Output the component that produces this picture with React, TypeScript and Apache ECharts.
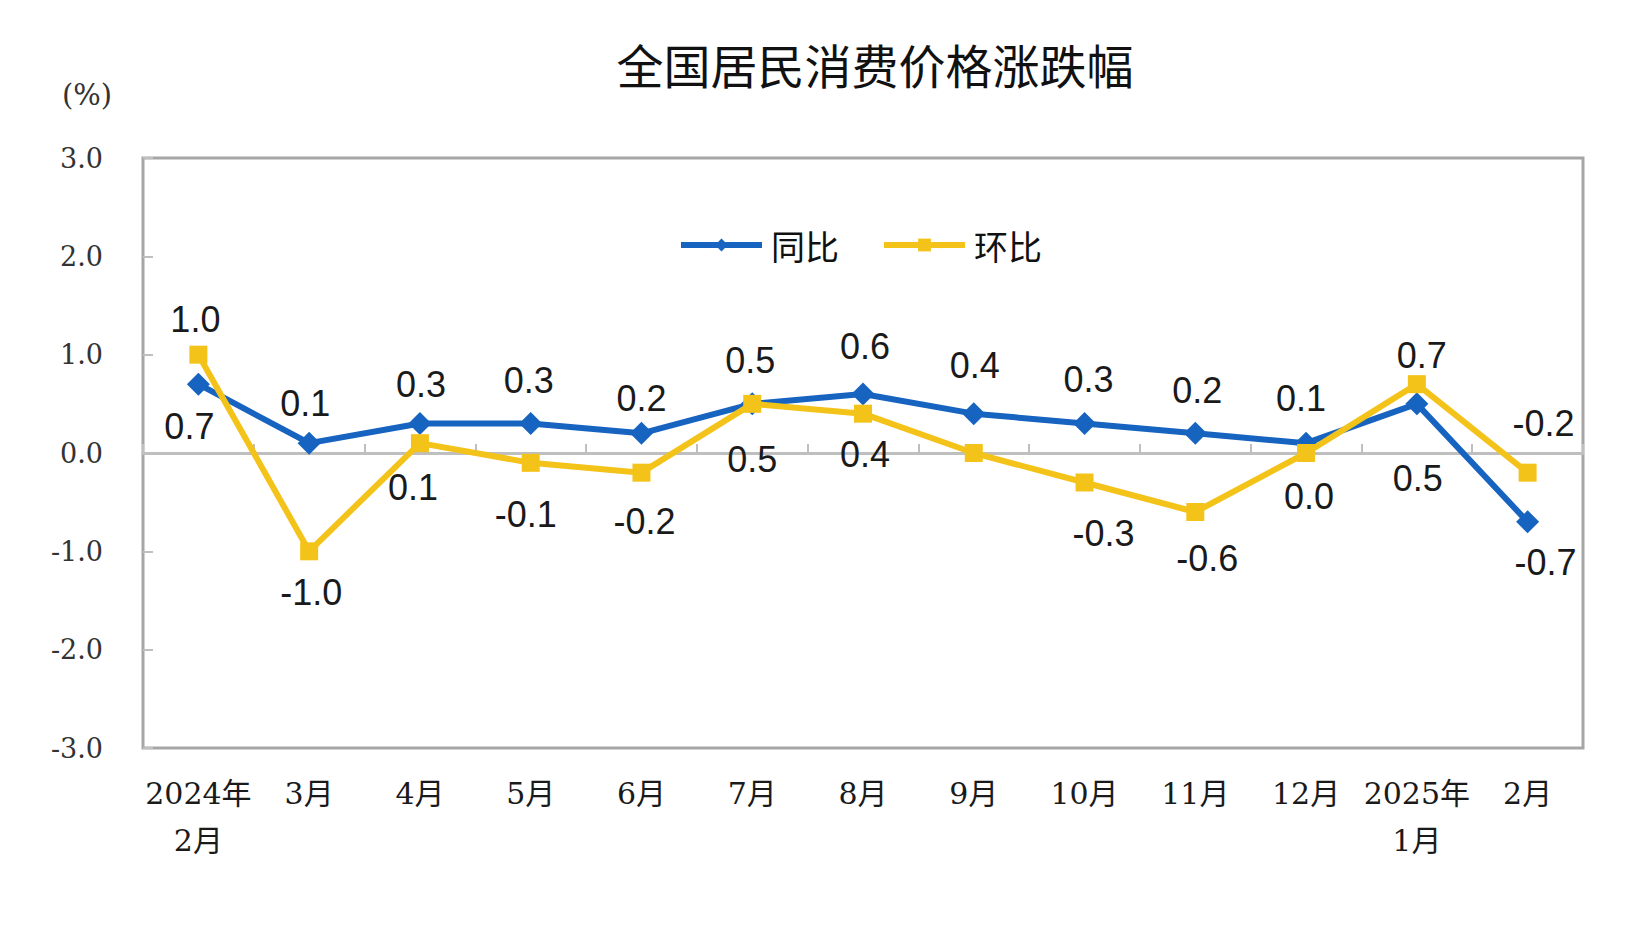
import React, { useEffect, useRef } from "react";
import * as echarts from "echarts";

const categories = ["2024年\n2月", "3月", "4月", "5月", "6月", "7月", "8月", "9月", "10月", "11月", "12月", "2025年\n1月", "2月"];
const yoyValues = [0.7, 0.1, 0.3, 0.3, 0.2, 0.5, 0.6, 0.4, 0.3, 0.2, 0.1, 0.5, -0.7];
const momValues = [1.0, -1.0, 0.1, -0.1, -0.2, 0.5, 0.4, 0.0, -0.3, -0.6, 0.0, 0.7, -0.2];
const momLabelShown = [true, true, true, true, true, true, true, false, true, true, true, true, true];
const yTicks = [-3, -2, -1, 0, 1, 2, 3];

const yoyLabelOffsets: [number, number][] = [
  [-9, 42], [-4, -40], [1, -39], [-2, -43], [0, -35], [-2, -43], [2, -48],
  [1, -48], [4, -44], [2, -43], [-5, -45], [1, 75], [18, 41],
];
const momLabelOffsets: [number, number][] = [
  [-3, -35], [2, 41], [-7, 44], [-5, 52], [3, 49], [0, 56], [2, 41],
  [0, 0], [19, 51], [12, 46], [3, 43], [5, -29], [16, -49],
];

const BLUE = "#1763c0";
const YELLOW = "#f4c31a";
const LABEL_FONT = "'Liberation Sans', Arial, sans-serif";
const SERIF = "'DejaVu Serif', 'Noto Sans CJK SC', serif";
const CJK = "'Noto Sans CJK SC', sans-serif";

export default function App() {
  const ref = useRef<HTMLDivElement>(null);
  useEffect(() => {
    document.body.style.margin = "0";
    if (!ref.current) return;
    const chart = echarts.init(ref.current, undefined, { renderer: "svg" });
    const labelStyle = { fontFamily: LABEL_FONT, fontSize: 36, color: "#1a1a1a" };
    const yoyData = yoyValues.map((v, i) => ({
      value: v,
      label: { show: true, position: "inside", offset: yoyLabelOffsets[i], formatter: v.toFixed(1), ...labelStyle },
    }));
    const momData = momValues.map((v, i) => ({
      value: v,
      label: { show: momLabelShown[i], position: "inside", offset: momLabelOffsets[i], formatter: v.toFixed(1), ...labelStyle },
    }));
    chart.setOption({
      animation: false,
      backgroundColor: "#ffffff",
      graphic: [
        {
          type: "text",
          x: 875,
          y: 63,
          style: { text: "全国居民消费价格涨跌幅", font: `47px ${CJK}`, fill: "#111", textAlign: "center", textVerticalAlign: "middle" },
        },
        {
          type: "text",
          x: 87,
          y: 95,
          style: { text: "(%)", font: `29px ${SERIF}`, fill: "#333", textAlign: "center", textVerticalAlign: "middle" },
        },
      ],
      legend: {
        data: ["同比", "环比"],
        left: 673,
        top: 223,
        itemWidth: 81,
        itemHeight: 16,
        itemGap: 42,
        lineStyle: { width: 6 },
        textStyle: { fontFamily: CJK, fontSize: 34, color: "#111", padding: [0, 0, 0, 4] },
      },
      grid: {
        left: 143,
        right: 66,
        top: 158,
        bottom: 198,
        show: true,
        borderColor: "#a6a6a6",
        borderWidth: 3,
        backgroundColor: "transparent",
      },
      xAxis: [
        {
          type: "category",
          data: categories,
          position: "bottom",
          boundaryGap: true,
          axisLine: { show: false, onZero: false },
          axisTick: { show: false },
          axisLabel: {
            interval: 0,
            margin: 22,
            fontFamily: SERIF,
            fontSize: 30,
            lineHeight: 47,
            color: "#1a1a1a",
          },
        },
        {
          type: "category",
          data: categories,
          position: "bottom",
          boundaryGap: true,
          axisLine: { show: true, onZero: true, lineStyle: { color: "#bfbfbf", width: 3 } },
          axisTick: { show: true, inside: true, length: 9, interval: 0, lineStyle: { color: "#bfbfbf", width: 2 } },
          axisLabel: { show: false },
        },
      ],
      yAxis: {
        type: "value",
        min: yTicks[0],
        max: yTicks[yTicks.length - 1],
        interval: 1,
        axisLine: { show: false },
        axisTick: { show: true, inside: true, length: 10, lineStyle: { color: "#bfbfbf", width: 2 } },
        splitLine: { show: false },
        axisLabel: {
          margin: 40,
          fontFamily: SERIF,
          fontSize: 27,
          color: "#333",
          formatter: (v: number) => v.toFixed(1),
        },
      },
      series: [
        {
          name: "同比",
          type: "line",
          xAxisIndex: 0,
          data: yoyData,
          symbol: "diamond",
          symbolSize: 23,
          lineStyle: { color: BLUE, width: 6 },
          itemStyle: { color: BLUE },
          z: 3,
        },
        {
          name: "环比",
          type: "line",
          xAxisIndex: 0,
          data: momData,
          symbol: "rect",
          symbolSize: 18,
          lineStyle: { color: YELLOW, width: 6 },
          itemStyle: { color: YELLOW },
          z: 4,
        },
      ],
    });
    return () => chart.dispose();
  }, []);
  return <div ref={ref} style={{ width: 1649, height: 946 }} />;
}
